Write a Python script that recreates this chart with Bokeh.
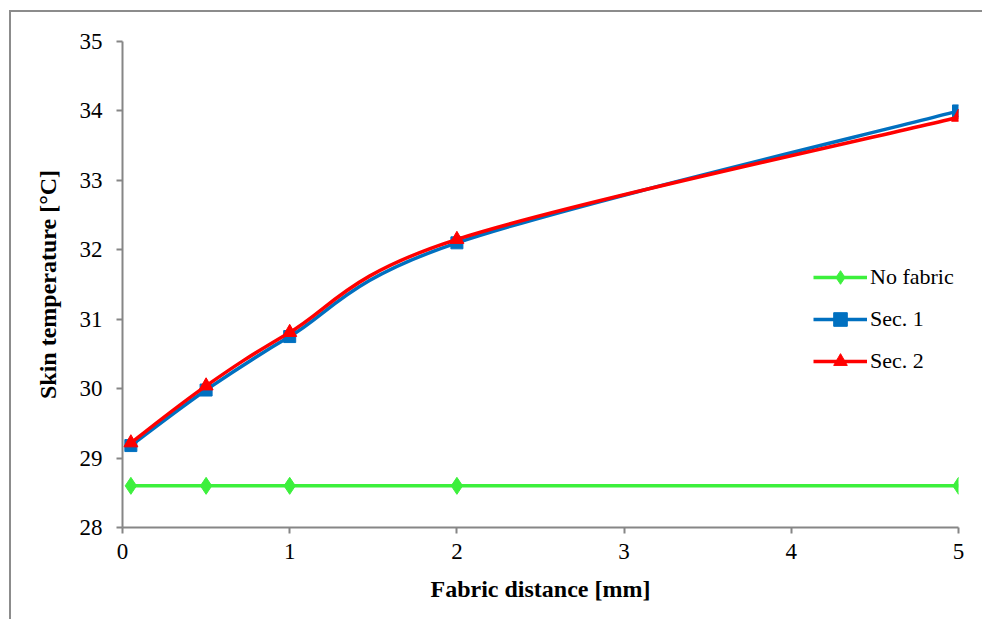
import numpy as np
from bokeh.plotting import figure
from bokeh.models import Range1d, Legend, LegendItem, FixedTicker, ColumnDataSource
from bokeh.embed import file_html
from bokeh.resources import INLINE

# data
distance = [0.05, 0.5, 1, 2, 5]
no_fabric = [28.6, 28.6, 28.6, 28.6, 28.6]
sec1 = [29.18, 29.98, 30.75, 32.1, 34.0]
sec2 = [29.22, 30.04, 30.81, 32.15, 33.91]
x_ticks = [0, 1, 2, 3, 4, 5]
y_ticks = [28, 29, 30, 31, 32, 33, 34, 35]

FONT = "Liberation Serif"
AXIS_COLOR = "#868686"

p = figure(width=973, height=609, output_backend="svg", toolbar_location=None,
           x_range=Range1d(0, 5), y_range=Range1d(28, 35),
           min_border_left=111, min_border_right=26, min_border_top=29, min_border_bottom=94)
p.styles = {"border-left": "2px solid #8c8c8c", "border-top": "2px solid #8c8c8c",
            "margin-left": "9px", "margin-top": "10px"}
p.outline_line_color = None
p.xgrid.visible = False
p.ygrid.visible = False

for ax in (p.xaxis[0], p.yaxis[0]):
    ax.axis_line_color = AXIS_COLOR
    ax.axis_line_width = 2
    ax.major_tick_line_color = AXIS_COLOR
    ax.major_tick_line_width = 2
    ax.major_tick_in = 0
    ax.major_tick_out = 6
    ax.minor_tick_line_color = None
    ax.major_label_text_font = FONT
    ax.major_label_text_font_size = "23px"
    ax.major_label_text_color = "black"
    ax.axis_label_text_font = FONT
    ax.axis_label_text_font_size = "24px"
    ax.axis_label_text_font_style = "bold"
    ax.axis_label_text_color = "black"

p.xaxis.ticker = FixedTicker(ticks=x_ticks)
p.yaxis.ticker = FixedTicker(ticks=y_ticks)
p.xaxis.axis_label = "Fabric distance [mm]"
p.yaxis.axis_label = "Skin temperature [°C]"
p.xaxis.major_label_standoff = 10
p.yaxis.major_label_standoff = 14
p.xaxis.axis_label_standoff = 14
p.yaxis.axis_label_standoff = 16


def smooth_source(xs, ys, t=1.0 / 6.0):
    xs = np.asarray(xs, float)
    ys = np.asarray(ys, float)
    n = len(xs)
    d = dict(x0=[], y0=[], x1=[], y1=[], cx0=[], cy0=[], cx1=[], cy1=[])
    for i in range(n - 1):
        im1 = max(i - 1, 0)
        ip2 = min(i + 2, n - 1)
        d["x0"].append(xs[i]); d["y0"].append(ys[i])
        d["x1"].append(xs[i + 1]); d["y1"].append(ys[i + 1])
        d["cx0"].append(xs[i] + (xs[i + 1] - xs[im1]) * t)
        d["cy0"].append(ys[i] + (ys[i + 1] - ys[im1]) * t)
        d["cx1"].append(xs[i + 1] - (xs[ip2] - xs[i]) * t)
        d["cy1"].append(ys[i + 1] - (ys[ip2] - ys[i]) * t)
    return ColumnDataSource(d)


series = [
    ("No fabric", no_fabric, "#3CF03C", "diamond", 17),
    ("Sec. 1", sec1, "#0070C0", "square", 12),
    ("Sec. 2", sec2, "#FF0000", "triangle", 14),
]

items = []
for name, ys, color, marker, size in series:
    p.bezier(x0="x0", y0="y0", x1="x1", y1="y1", cx0="cx0", cy0="cy0", cx1="cx1", cy1="cy1",
             source=smooth_source(distance, ys), line_color=color, line_width=3.5)
    leg_line = p.line(x=[np.nan, np.nan], y=[np.nan, np.nan], line_color=color, line_width=3.5)
    sc = p.scatter(x=distance, y=ys, marker=marker, size=size, fill_color=color, line_color=color)
    items.append(LegendItem(label=name, renderers=[leg_line, sc]))

legend = Legend(items=items, location=(691, 149), orientation="vertical",
                label_text_font=FONT, label_text_font_size="22px", label_text_color="black",
                glyph_width=54, glyph_height=34, label_height=34, spacing=8,
                label_standoff=3, padding=0, margin=0,
                border_line_color=None, background_fill_alpha=0)
p.add_layout(legend, "center")

open("out.html", "w").write(file_html(p, INLINE))
